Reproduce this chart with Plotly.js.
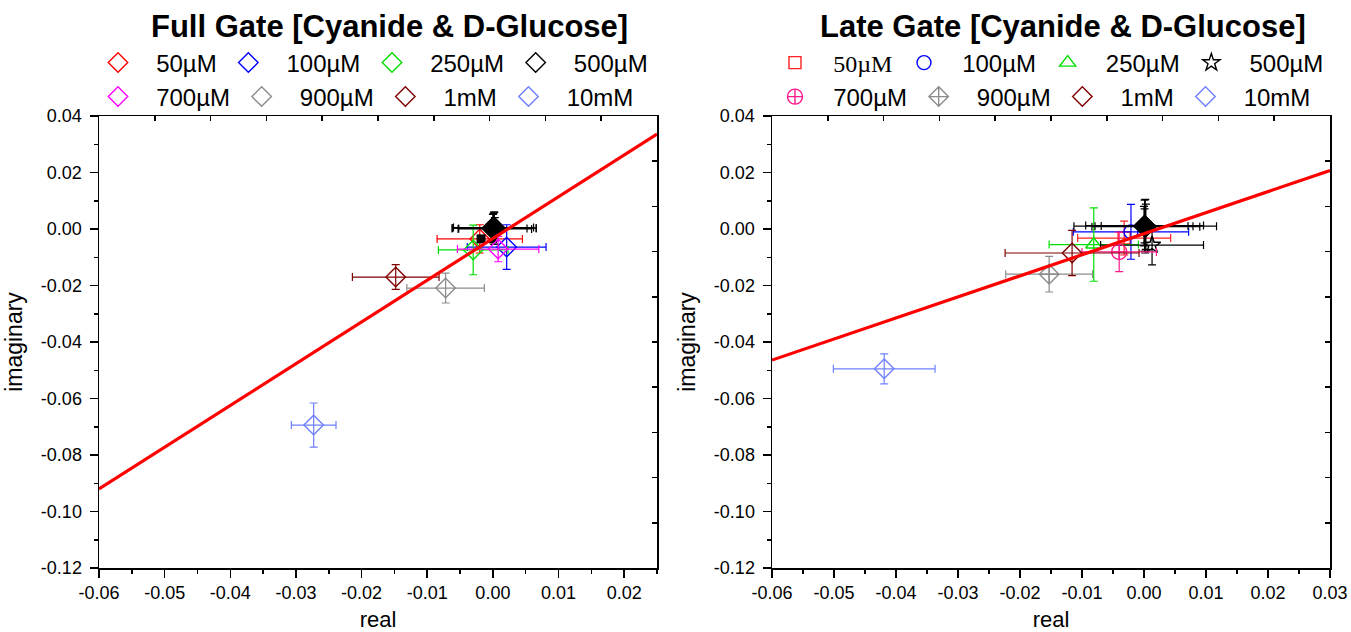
<!DOCTYPE html>
<html>
<head>
<meta charset="utf-8">
<script src="https://cdn.plot.ly/plotly-3.0.1.min.js"></script>
<style>html,body{margin:0;padding:0;background:#fff;}#chart{width:1351px;height:632px;}</style>
</head>
<body>
<div id="chart"></div>
<script>
// ---------- data ----------
const SERIES_NAMES = ['50µM', '100µM', '250µM', '500µM', '700µM', '900µM', '1mM', '10mM'];

// Full Gate (left)
const FULL_X  = [-0.0020, 0.0021, -0.0030, 0.0002, 0.0008, -0.0072, -0.0148, -0.0273];
const FULL_Y  = [-0.0035, -0.0064, -0.0074, 0.0003, -0.0071, -0.0209, -0.0170, -0.0694];
const FULL_EX = [0.0065, 0.0060, 0.0053, 0.0064, 0.0062, 0.0059, 0.0066, 0.0034];
const FULL_EY = [0.0050, 0.0079, 0.0088, 0.0057, 0.0045, 0.0053, 0.0044, 0.0078];
// overlapping black control points (Full Gate)
const FULL_CTRL_X  = [0.0002, 0.0001, 0.0003, 0.0000];
const FULL_CTRL_Y  = [0.0003, 0.0005, 0.0000, 0.0002];
const FULL_CTRL_EX = [0.0064, 0.0061, 0.0056, 0.0052];
const FULL_CTRL_EY = [0.0057, 0.0050, 0.0040, 0.0050];
const FULL_SQ_X = [-0.0018];
const FULL_SQ_Y = [-0.0035];
const FULL_FIT_X = [-0.06, 0.025];
const FULL_FIT_Y = [-0.0920, 0.0336];

// Late Gate (right)
const LATE_X  = [-0.0032, -0.0021, -0.0081, 0.0013, -0.0040, -0.0153, -0.0116, -0.0419];
const LATE_Y  = [-0.0032, -0.0010, -0.0055, -0.0057, -0.0081, -0.0160, -0.0085, -0.0495];
const LATE_EX = [0.0075, 0.0093, 0.0072, 0.0083, 0.0060, 0.0070, 0.0108, 0.0082];
const LATE_EY = [0.0060, 0.0097, 0.0130, 0.0070, 0.0070, 0.0063, 0.0080, 0.0053];
const LATE_CTRL_X  = [0.0002, 0.0001, 0.0003, 0.0000, 0.0001];
const LATE_CTRL_Y  = [0.0010, 0.0012, 0.0008, 0.0010, 0.0011];
const LATE_CTRL_EX = [0.0115, 0.0095, 0.0087, 0.0079, 0.0070];
const LATE_CTRL_EY = [0.0095, 0.0090, 0.0080, 0.0070, 0.0060];
const LATE_FIT_X = [-0.06, 0.03];
const LATE_FIT_Y = [-0.0464, 0.0207];

// ticks
const FULL_XTICKS = [-0.06, -0.05, -0.04, -0.03, -0.02, -0.01, 0.00, 0.01, 0.02];
const FULL_XTEXT  = ['-0.06', '-0.05', '-0.04', '-0.03', '-0.02', '-0.01', '0.00', '0.01', '0.02'];
const LATE_XTICKS = [-0.06, -0.05, -0.04, -0.03, -0.02, -0.01, 0.00, 0.01, 0.02, 0.03];
const LATE_XTEXT  = ['-0.06', '-0.05', '-0.04', '-0.03', '-0.02', '-0.01', '0.00', '0.01', '0.02', '0.03'];
const YTICKS = [0.04, 0.02, 0.00, -0.02, -0.04, -0.06, -0.08, -0.10, -0.12];
const YTEXT  = ['0.04', '0.02', '0.00', '-0.02', '-0.04', '-0.06', '-0.08', '-0.10', '-0.12'];

// ---------- styles ----------
const FULL_COLORS = ['#ff0000', '#0000ff', '#00e000', '#000000', '#ff00ff', '#8c8c8c', '#800000', '#6f80ff'];
const LATE_COLORS = ['#ff2020', '#0000ff', '#00e000', '#000000', '#ff1a8c', '#8c8c8c', '#800000', '#6f80ff'];
const LATE_SYMBOLS = ['square-open', 'circle-open', 'triangle-up-open', 'star-open', 'circle-cross-open', 'diamond-cross-open', 'diamond-open', 'diamond-open'];
const LATE_SIZES = [12, 14, 14, 13, 15, 15, 15, 15];
const FONT = 'Liberation Sans, Arial, sans-serif';
const PRE = '\u00a0\u00a0\u2009';
const POST = '\u00a0';

const W = 1351, H = 632;
const px = v => v / W;
const py = v => 1 - v / H;

const traces = [];

function errObj(arr, color) {
  return {type: 'data', array: arr, visible: true, color: color, thickness: 1.2, width: 4};
}

// Full Gate series
SERIES_NAMES.forEach((name, i) => {
  if (i === 3) {
    traces.push({
      type: 'scatter', mode: 'markers', xaxis: 'x', yaxis: 'y', showlegend: false, name: 'ctrl',
      x: FULL_CTRL_X, y: FULL_CTRL_Y,
      error_x: errObj(FULL_CTRL_EX, '#000'), error_y: errObj(FULL_CTRL_EY, '#000'),
      marker: {symbol: 'diamond', size: 18, color: '#000'}
    });
  }
  traces.push({
    type: 'scatter', mode: 'markers', xaxis: 'x', yaxis: 'y',
    name: PRE + name + POST, legend: i < 4 ? 'legend' : 'legend2',
    x: [FULL_X[i]], y: [FULL_Y[i]],
    error_x: errObj([FULL_EX[i]], FULL_COLORS[i]),
    error_y: errObj([FULL_EY[i]], FULL_COLORS[i]),
    marker: {symbol: 'diamond-open', size: 15, color: FULL_COLORS[i], line: {width: 1.4, color: FULL_COLORS[i]}}
  });
});
traces.push({
  type: 'scatter', mode: 'markers', xaxis: 'x', yaxis: 'y', showlegend: false, name: 'sq',
  x: FULL_SQ_X, y: FULL_SQ_Y, marker: {symbol: 'square', size: 9, color: '#000'}
});
traces.push({
  type: 'scatter', mode: 'lines', xaxis: 'x', yaxis: 'y', showlegend: false, name: 'fit',
  x: FULL_FIT_X, y: FULL_FIT_Y, line: {color: '#ff0000', width: 3.2}
});

// Late Gate series
SERIES_NAMES.forEach((name, i) => {
  if (i === 3) {
    traces.push({
      type: 'scatter', mode: 'markers', xaxis: 'x2', yaxis: 'y2', showlegend: false, name: 'ctrl',
      x: LATE_CTRL_X, y: LATE_CTRL_Y,
      error_x: errObj(LATE_CTRL_EX, '#000'), error_y: errObj(LATE_CTRL_EY, '#000'),
      marker: {symbol: 'diamond', size: 17, color: '#000'}
    });
  }
  const label = i === 0
    ? PRE + '<span style="font-family:Liberation Serif, Times New Roman, serif">' + name + '</span>' + POST
    : PRE + name + POST;
  traces.push({
    type: 'scatter', mode: 'markers', xaxis: 'x2', yaxis: 'y2',
    name: label, legend: i < 4 ? 'legend3' : 'legend4',
    x: [LATE_X[i]], y: [LATE_Y[i]],
    error_x: errObj([LATE_EX[i]], LATE_COLORS[i]),
    error_y: errObj([LATE_EY[i]], LATE_COLORS[i]),
    marker: {symbol: LATE_SYMBOLS[i], size: LATE_SIZES[i], color: LATE_COLORS[i], line: {width: 1.4, color: LATE_COLORS[i]}}
  });
});
traces.push({
  type: 'scatter', mode: 'lines', xaxis: 'x2', yaxis: 'y2', showlegend: false, name: 'fit',
  x: LATE_FIT_X, y: LATE_FIT_Y, line: {color: '#ff0000', width: 3.2}
});

// empty carriers so the top / right tick axes get drawn
traces.push({type: 'scatter', mode: 'markers', x: [null], y: [null], xaxis: 'x3', yaxis: 'y3', showlegend: false, hoverinfo: 'skip'});
traces.push({type: 'scatter', mode: 'markers', x: [null], y: [null], xaxis: 'x4', yaxis: 'y4', showlegend: false, hoverinfo: 'skip'});

const xdomL = [px(99), px(657)], xdomR = [px(772), px(1330)];
const ydom = [py(568), py(116)];

function xAxis(dom, rng, tv, tt, anchor) {
  return {
    domain: dom, range: rng, anchor: anchor,
    tickmode: 'array', tickvals: tv, ticktext: tt,
    ticks: 'outside', ticklen: 8, tickwidth: 1.5, tickcolor: '#000',
    minor: {tickmode: 'linear', tick0: 0, dtick: 0.005, ticks: 'outside', ticklen: 4, tickwidth: 1.5, tickcolor: '#000', showgrid: false},
    showline: true, linecolor: '#000', linewidth: 1.5, mirror: true,
    showgrid: false, zeroline: false,
    tickfont: {family: FONT, size: 18, color: '#000'},
    title: {text: 'real', font: {family: FONT, size: 22, color: '#000'}, standoff: 10}
  };
}
function yAxis(anchor) {
  return {
    domain: ydom, range: [-0.12, 0.04], anchor: anchor,
    tickmode: 'array', tickvals: YTICKS, ticktext: YTEXT,
    ticks: 'outside', ticklen: 8, tickwidth: 1.5, tickcolor: '#000',
    minor: {tickmode: 'linear', tick0: 0, dtick: 0.01, ticks: 'outside', ticklen: 4, tickwidth: 1.5, tickcolor: '#000', showgrid: false},
    showline: true, linecolor: '#000', linewidth: 1.5, mirror: true,
    showgrid: false, zeroline: false, ticklabelstandoff: 4,
    tickfont: {family: FONT, size: 18, color: '#000'},
    title: {text: 'imaginary', font: {family: FONT, size: 23, color: '#000'}, standoff: 12}
  };
}
function topAxis(over, anchor) {
  return {overlaying: over, anchor: anchor, side: 'top', range: [0, 10], tickmode: 'linear', tick0: 0, dtick: 1,
    ticks: 'inside', ticklen: 5, tickwidth: 1.5, tickcolor: '#000', showticklabels: false,
    showline: false, showgrid: false, zeroline: false, fixedrange: true};
}
function rightAxis(over, anchor) {
  return {overlaying: over, anchor: anchor, side: 'right', range: [0, 10], tickmode: 'linear', tick0: 0, dtick: 1,
    ticks: 'inside', ticklen: 5, tickwidth: 1.5, tickcolor: '#000', showticklabels: false,
    showline: false, showgrid: false, zeroline: false, fixedrange: true};
}
function legendObj(xpx, ypx) {
  return {orientation: 'h', x: px(xpx), y: py(ypx), xanchor: 'left', yanchor: 'middle',
    bgcolor: 'rgba(0,0,0,0)', borderwidth: 0,
    font: {family: FONT, size: 24, color: '#000'}, itemclick: false, itemdoubleclick: false};
}

const layout = {
  width: W, height: H,
  margin: {l: 0, r: 0, t: 0, b: 0, autoexpand: false},
  paper_bgcolor: '#fff', plot_bgcolor: '#fff',
  showlegend: true,
  xaxis: xAxis(xdomL, [-0.06, 0.025], FULL_XTICKS, FULL_XTEXT, 'y'),
  yaxis: yAxis('x'),
  xaxis2: xAxis(xdomR, [-0.06, 0.03], LATE_XTICKS, LATE_XTEXT, 'y2'),
  yaxis2: yAxis('x2'),
  xaxis3: topAxis('x', 'y3'),
  yaxis3: rightAxis('y', 'x3'),
  xaxis4: topAxis('x2', 'y4'),
  yaxis4: rightAxis('y2', 'x4'),
  legend: legendObj(98, 63),
  legend2: legendObj(98, 97),
  legend3: legendObj(775, 63),
  legend4: legendObj(775, 97),
  annotations: [
    {text: '<b>Full Gate [Cyanide &amp; D-Glucose]</b>', x: px(390), y: py(26), xref: 'paper', yref: 'paper',
      xanchor: 'center', yanchor: 'middle', showarrow: false, font: {family: FONT, size: 31, color: '#000'}},
    {text: '<b>Late Gate [Cyanide &amp; D-Glucose]</b>', x: px(1063), y: py(26), xref: 'paper', yref: 'paper',
      xanchor: 'center', yanchor: 'middle', showarrow: false, font: {family: FONT, size: 31, color: '#000'}}
  ]
};

Plotly.newPlot('chart', traces, layout, {staticPlot: true, displayModeBar: false});
</script>
</body>
</html>
